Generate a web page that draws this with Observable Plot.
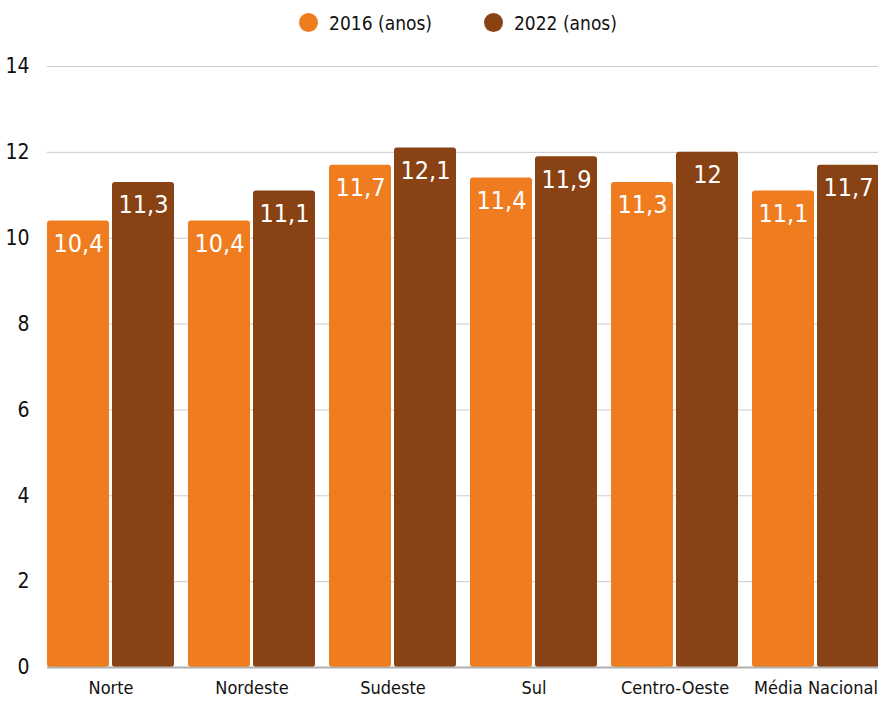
<!DOCTYPE html>
<html>
<head>
<meta charset="utf-8">
<script src="https://cdn.jsdelivr.net/npm/d3@7"></script>
<script src="https://cdn.jsdelivr.net/npm/@observablehq/plot@0.6"></script>
<style>
  html, body { margin: 0; padding: 0; background: #fff; overflow: hidden; }
  #legend { height: 45px; display: flex; align-items: center; justify-content: center; padding-left: 38px; font-family: "DejaVu Sans Condensed", sans-serif; font-size: 19px; color: #111; }
  .item { display: flex; align-items: center; }
  .sw { width: 19px; height: 19px; border-radius: 50%; margin-right: 11px; }
  .item + .item { margin-left: 52px; }
  #chart svg { display: block; }
</style>
</head>
<body>
<div id="legend"></div>
<div id="chart"></div>
<script>
const regions = ["Norte", "Nordeste", "Sudeste", "Sul", "Centro-Oeste", "Média Nacional"];
const seriesNames = ["2016 (anos)", "2022 (anos)"];
const values2016 = [10.4, 10.4, 11.7, 11.4, 11.3, 11.1];
const values2022 = [11.3, 11.1, 12.1, 11.9, 12, 11.7];
const yTicks = [0, 2, 4, 6, 8, 10, 12, 14];
const colors = ["#EF7D1F", "#884214"];

const data = [];
regions.forEach((r, i) => {
  data.push({region: r, series: seriesNames[0], value: values2016[i]});
  data.push({region: r, series: seriesNames[1], value: values2022[i]});
});

const legend = document.getElementById("legend");
seriesNames.forEach((s, i) => {
  const it = document.createElement("div");
  it.className = "item";
  it.innerHTML = `<span class="sw" style="background:${colors[i]}"></span><span>${s}</span>`;
  legend.appendChild(it);
});

const font = '"DejaVu Sans Condensed", sans-serif';

const chart = Plot.plot({
  width: 878,
  height: 658,
  marginTop: 21,
  marginBottom: 36,
  marginLeft: 47,
  marginRight: -15,
  style: {fontFamily: font, fontSize: "18px", color: "#111", background: "#fff", overflow: "hidden"},
  fx: {domain: regions, padding: 0, label: null},
  x: {domain: seriesNames, paddingInner: 0.046, paddingOuter: 0.1076, align: 0, axis: null},
  y: {domain: [0, 14], ticks: yTicks, label: null, axis: null},
  color: {domain: seriesNames, range: colors},
  marks: [
    Plot.ruleY(yTicks.filter(d => d > 0), {stroke: "#cccccc", strokeWidth: 1}),
    Plot.barY(data, {fx: "region", x: "series", y: "value", fill: "series", rx: 3}),
    Plot.ruleY([0], {stroke: "#b0b0b0", strokeWidth: 2}),
    Plot.text(data, {fx: "region", x: "series", y: "value", text: d => String(d.value).replace(".", ","), dy: 23, fill: "#fff", fontSize: 25}),
    Plot.axisY(yTicks, {anchor: "left", tickSize: 0, tickPadding: 18, fontSize: 21, label: null}),
    Plot.axisFx({anchor: "bottom", tickSize: 0, tickPadding: 14, dx: -7, fontSize: 18, label: null})
  ]
});
document.getElementById("chart").appendChild(chart);
</script>
</body>
</html>
